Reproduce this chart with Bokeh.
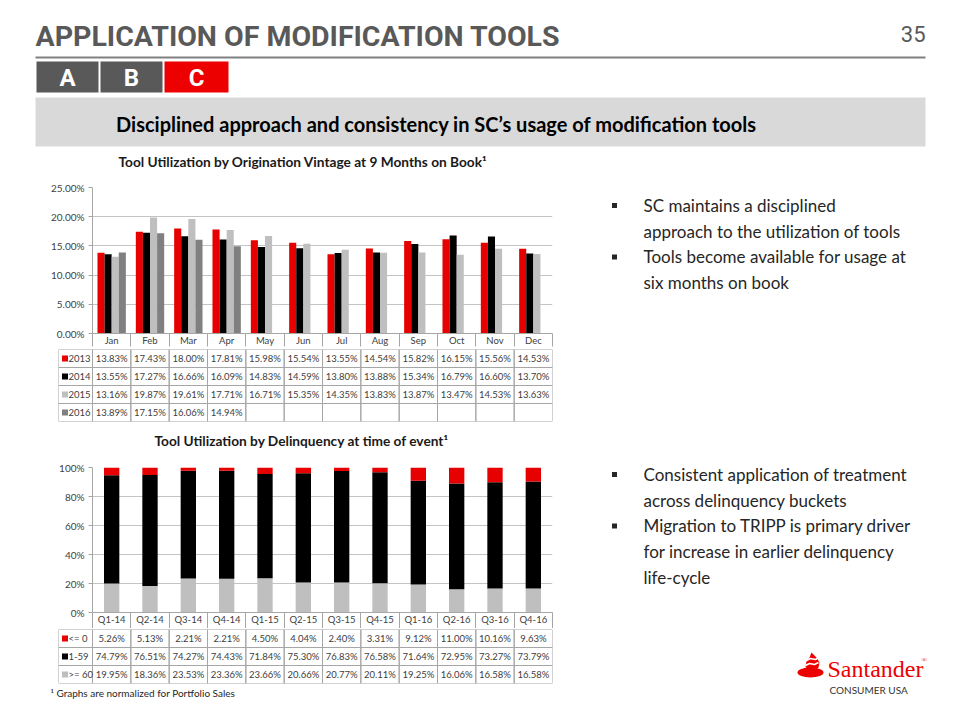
from bokeh.plotting import figure
from bokeh.layouts import column, row
from bokeh.models import Range1d, FixedTicker, PrintfTickFormatter
from bokeh.core.properties import value
from bokeh.embed import file_html
from bokeh.resources import INLINE

# ---------------- data ----------------
months = ["Jan", "Feb", "Mar", "Apr", "May", "Jun", "Jul", "Aug", "Sep", "Oct", "Nov", "Dec"]
vintage_names = ["2013", "2014", "2015", "2016"]
vintage_2013 = [13.83, 17.43, 18.00, 17.81, 15.98, 15.54, 13.55, 14.54, 15.82, 16.15, 15.56, 14.53]
vintage_2014 = [13.55, 17.27, 16.66, 16.09, 14.83, 14.59, 13.80, 13.88, 15.34, 16.79, 16.60, 13.70]
vintage_2015 = [13.16, 19.87, 19.61, 17.71, 16.71, 15.35, 14.35, 13.83, 13.87, 13.47, 14.53, 13.63]
vintage_2016 = [13.89, 17.15, 16.06, 14.94]

quarters = ["Q1-14", "Q2-14", "Q3-14", "Q4-14", "Q1-15", "Q2-15", "Q3-15", "Q4-15",
            "Q1-16", "Q2-16", "Q3-16", "Q4-16"]
delinq_names = ["<= 0", "1-59", ">= 60"]
delinq_le0 = [5.26, 5.13, 2.21, 2.21, 4.50, 4.04, 2.40, 3.31, 9.12, 11.00, 10.16, 9.63]
delinq_1_59 = [74.79, 76.51, 74.27, 74.43, 71.84, 75.30, 76.83, 76.58, 71.64, 72.95, 73.27, 73.79]
delinq_ge60 = [19.95, 18.36, 23.53, 23.36, 23.66, 20.66, 20.77, 20.11, 19.25, 16.06, 16.58, 16.58]

title_text = "APPLICATION OF MODIFICATION TOOLS"
page_number = "35"
section_tabs = ["A", "B", "C"]
banner_text = "Disciplined approach and consistency in SC\u2019s usage of modification tools"
chart1_title = "Tool Utilization by Origination Vintage at 9 Months on Book\u00b9"
chart2_title = "Tool Utilization by Delinquency at time of event\u00b9"
bullets_top = [["SC maintains a disciplined", "approach to the utilization of tools"],
               ["Tools become available for usage at", "six months on book"]]
bullets_bottom = [["Consistent application of treatment", "across delinquency buckets"],
                  ["Migration to TRIPP is primary driver", "for increase in earlier delinquency",
                   "life-cycle"]]
footnote = "\u00b9 Graphs are normalized for Portfolio Sales"

# ---------------- styles ----------------
FONT = "Lato"
HEAD = "Roboto"
RED = "#e60000"
DARK = "#595959"
LIGHT = "#bfbfbf"
MID = "#808080"
AXIS = "#a6a6a6"
GRID = "#c4c4c4"
TXT = "#404040"
vintage_colors = [RED, "#000000", LIGHT, MID]
delinq_colors = [RED, "#000000", LIGHT]


def canvas(width, height, x0, x1, y0, y1):
    c = figure(width=width, height=height, x_range=Range1d(x0, x1), y_range=Range1d(y1, y0),
               output_backend="svg", toolbar_location=None,
               x_axis_location=None, y_axis_location=None,
               min_border_left=0, min_border_right=0, min_border_top=0, min_border_bottom=0)
    c.grid.visible = False
    c.outline_line_color = None
    return c


# ---------------- header ----------------
hdr = canvas(944, 150, 0, 944, 0, 150)
hdr.text(x=[35], y=[36], text=[title_text], text_align="left", text_baseline="middle",
         text_font=value(HEAD), text_font_style="bold", text_font_size="28.5px", text_color=DARK)
hdr.text(x=[925], y=[33], text=[page_number], text_align="right", text_baseline="middle",
         text_font=value(HEAD), text_font_size="22px", text_color=DARK)
hdr.segment(x0=[35], y0=[57], x1=[925], y1=[57], line_color=MID, line_width=2)
tab_left = [36, 100, 164]
tab_right = [98, 162, 228]
hdr.quad(left=tab_left, right=tab_right, top=[61] * 3, bottom=[92] * 3,
         fill_color=[DARK, DARK, "#ec0000"], line_color=None)
hdr.text(x=[(a + b) / 2 for a, b in zip(tab_left, tab_right)], y=[77] * 3, text=section_tabs,
         text_align="center", text_baseline="middle", text_font=value(HEAD),
         text_font_style="bold", text_font_size="24px", text_color="white")
hdr.quad(left=[35], right=[925], top=[97], bottom=[146], fill_color="#d9d9d9", line_color=None)
hdr.text(x=[436], y=[123], text=[banner_text], text_align="center", text_baseline="middle",
         text_font=value(FONT), text_font_style="bold", text_font_size="20px", text_color="#000000")


# ---------------- chart helpers ----------------
def title_strip(text, x, y0, y1, y):
    s = canvas(560, y1 - y0, 0, 560, y0, y1)
    s.text(x=[x], y=[y], text=[text], text_align="left", text_baseline="middle",
           text_font=value(FONT), text_font_style="bold", text_font_size="13.7px",
           text_color="#1a1a1a")
    return s


def base_chart(labels, ymax, ystep, fmt, height, top, bottom):
    n = len(labels)
    p = figure(width=560, height=height, x_range=Range1d(0, n), y_range=Range1d(0, ymax),
               output_backend="svg", toolbar_location=None,
               min_border_left=92, min_border_right=8, min_border_top=top, min_border_bottom=bottom)
    p.outline_line_color = None
    p.xgrid.visible = False
    p.ygrid.grid_line_color = GRID
    p.yaxis.ticker = FixedTicker(ticks=list(range(0, ymax + 1, ystep)))
    p.yaxis.formatter = PrintfTickFormatter(format=fmt)
    p.yaxis.axis_line_color = AXIS
    p.yaxis.major_tick_line_color = AXIS
    p.yaxis.major_tick_out = 4
    p.yaxis.major_tick_in = 0
    p.yaxis.minor_tick_line_color = None
    p.yaxis.major_label_text_font = FONT
    p.yaxis.major_label_text_font_size = "10px"
    p.yaxis.major_label_text_color = TXT
    p.yaxis.major_label_standoff = 4
    p.xaxis.ticker = FixedTicker(ticks=[i + 0.5 for i in range(n)], minor_ticks=list(range(n + 1)))
    p.xaxis.major_label_overrides = {i + 0.5: lab for i, lab in enumerate(labels)}
    p.xaxis.axis_line_color = AXIS
    p.xaxis.major_tick_line_color = None
    p.xaxis.major_tick_out = 0
    p.xaxis.major_tick_in = 0
    p.xaxis.minor_tick_line_color = AXIS
    p.xaxis.minor_tick_out = bottom
    p.xaxis.minor_tick_in = 0
    p.xaxis.major_label_standoff = 1 - bottom
    p.xaxis.major_label_text_font = FONT
    p.xaxis.major_label_text_font_size = "9.5px"
    p.xaxis.major_label_text_color = TXT
    return p


def table(names, series, colors, n_cols, height, fmt):
    nrows = len(names)
    col_px = 460 / n_cols
    leg = 34 / col_px
    t = figure(width=560, height=height, x_range=Range1d(-leg, n_cols), y_range=Range1d(nrows, 0),
               output_backend="svg", toolbar_location=None,
               x_axis_location=None, y_axis_location=None,
               min_border_left=58, min_border_right=8, min_border_top=1, min_border_bottom=1)
    t.grid.visible = False
    t.outline_line_color = None
    lefts, rights, tops, bottoms = [], [], [], []
    for r in range(nrows):
        lefts.append(-leg)
        rights.append(0)
        tops.append(r)
        bottoms.append(r + 1)
        for c in range(n_cols):
            lefts.append(c)
            rights.append(c + 1)
            tops.append(r)
            bottoms.append(r + 1)
    t.quad(left=lefts, right=rights, top=tops, bottom=bottoms, fill_color=None,
           line_color=AXIS, line_width=1)
    xs, ys, txt = [], [], []
    for r, s in enumerate(series):
        for c, v in enumerate(s):
            xs.append(c + 0.5)
            ys.append(r + 0.5)
            txt.append(fmt % v)
    t.text(x=xs, y=ys, text=txt, text_align="center", text_baseline="middle",
           text_font=value(FONT), text_font_size="9.5px", text_color=TXT)
    t.scatter(x=[-leg + 6.5 / col_px] * nrows, y=[r + 0.5 for r in range(nrows)], marker="square",
              size=6, fill_color=colors, line_color=None)
    t.text(x=[-leg + 10 / col_px] * nrows, y=[r + 0.5 for r in range(nrows)], text=names,
           text_align="left", text_baseline="middle", text_font=value(FONT),
           text_font_size="9.5px", text_color=TXT)
    return t


# ---------------- chart 1 ----------------
s1 = title_strip(chart1_title, 118, 150, 175, 161)
c1 = base_chart(months, 25, 5, "%.2f%%", 173, 12, 13)
bar_w = 0.185
offsets = [-1.5 * bar_w, -0.5 * bar_w, 0.5 * bar_w, 1.5 * bar_w]
for k, vals in enumerate([vintage_2013, vintage_2014, vintage_2015, vintage_2016]):
    c1.vbar(x=[i + 0.5 + offsets[k] for i in range(len(vals))], top=vals, width=bar_w,
            fill_color=vintage_colors[k], line_color=None)
t1 = table(vintage_names, [vintage_2013, vintage_2014, vintage_2015, vintage_2016],
           vintage_colors, 12, 74, "%.2f%%")

# ---------------- chart 2 ----------------
s2 = title_strip(chart2_title, 154, 422, 452, 440)
c2 = base_chart(quarters, 100, 20, "%d%%", 176, 15, 16)
src = {"x": [i + 0.5 for i in range(len(quarters))], "ge60": delinq_ge60,
       "mid": delinq_1_59, "le0": delinq_le0}
c2.vbar_stack(["ge60", "mid", "le0"], x="x", width=0.4, source=src,
              fill_color=[LIGHT, "#000000", RED], line_color=None)
t2 = table(delinq_names, [delinq_le0, delinq_1_59, delinq_ge60], delinq_colors, 12, 56, "%.2f%%")

# ---------------- footer ----------------
ft = canvas(560, 20, 0, 560, 684, 704)
ft.text(x=[50], y=[692], text=[footnote], text_align="left", text_baseline="middle",
        text_font=value(FONT), text_font_size="10px", text_color="#262626")

# ---------------- right column ----------------
rc = canvas(384, 554, 560, 944, 150, 704)


def bullets(groups, y_start, step):
    bx, by, lx, ly, lt = [], [], [], [], []
    y = y_start
    for g in groups:
        bx.append(614)
        by.append(y)
        for line in g:
            lx.append(643)
            ly.append(y)
            lt.append(line)
            y += step
    rc.scatter(x=bx, y=by, marker="square", size=5, fill_color="#262626", line_color=None)
    rc.text(x=lx, y=ly, text=lt, text_align="left", text_baseline="middle",
            text_font=value(FONT), text_font_size="17px", text_color="#262626")


bullets(bullets_top, 205, 25.7)
bullets(bullets_bottom, 474, 25.7)

# logo
rc.ellipse(x=[810], y=[672], width=[26], height=[10], fill_color="#ec0000", line_color=None)
rc.patch(x=[811, 816, 819, 818, 814, 808, 805, 806, 809, 811],
         y=[652, 657, 662, 667, 670, 670, 666, 661, 657, 652],
         fill_color="#ec0000", line_color=None)
rc.multi_line(xs=[[806, 810, 815, 818], [805, 809, 814, 818]],
              ys=[[660, 658, 659, 657], [665, 663, 664, 662]], line_color="white", line_width=1.6)
rc.text(x=[827], y=[668], text=["Santander"], text_align="left", text_baseline="middle",
        text_font=value("Liberation Serif"), text_font_size="24px", text_color="#ec0000")
rc.text(x=[921], y=[659], text=["\u00ae"], text_align="left", text_baseline="middle",
        text_font=value("Liberation Serif"), text_font_size="7px", text_color="#ec0000")
rc.text(x=[829], y=[689], text=["CONSUMER USA"], text_align="left", text_baseline="middle",
        text_font=value(FONT), text_font_size="10px", text_color="#333333")

left = column(row(s1, spacing=0), c1, row(t1, spacing=0), row(s2, spacing=0), c2,
              row(t2, spacing=0), row(ft, spacing=0), spacing=0)
page = column(hdr, row(left, rc, spacing=0), spacing=0)

open("out.html", "w").write(file_html(page, INLINE))
